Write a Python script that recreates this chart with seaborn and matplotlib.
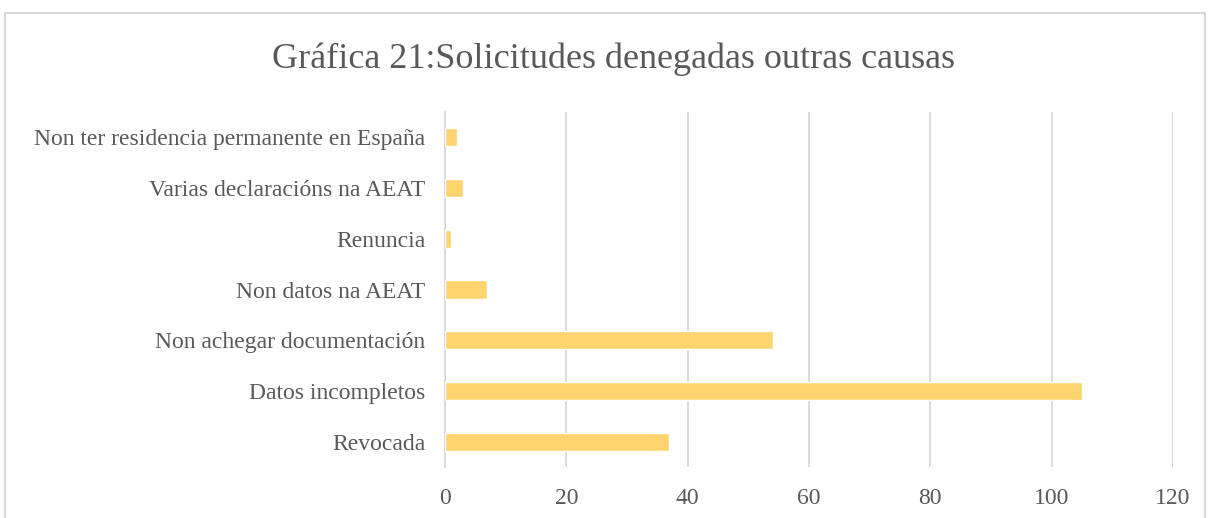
import matplotlib
matplotlib.use("Agg")
import matplotlib.pyplot as plt
import seaborn as sns
import pandas as pd
from matplotlib.patches import Rectangle

# Data (top to bottom as shown in the chart)
categories = [
    "Non ter residencia permanente en España",
    "Varias declaracións na AEAT",
    "Renuncia",
    "Non datos na AEAT",
    "Non achegar documentación",
    "Datos incompletos",
    "Revocada",
]
values = [2, 3, 1, 7, 54, 105, 37]
x_ticks = [0, 20, 40, 60, 80, 100, 120]

title = "Gráfica 21:Solicitudes denegadas outras causas"

TEXT = "#595959"
GRID = "#d9d9d9"
BAR = "#FED46F"

sns.set_theme(style="white")
plt.rcParams["font.family"] = ["Liberation Serif", "DejaVu Serif"]

df = pd.DataFrame({"causa": categories, "n": values})

fig = plt.figure(figsize=(12.08, 5.18), dpi=100)
ax = fig.add_axes([445 / 1208, 1 - 467 / 518, (1173 - 445) / 1208, (467 - 112) / 518])

sns.barplot(data=df, x="n", y="causa", orient="h", color=BAR, width=0.36,
            saturation=1, ax=ax, zorder=3)

ax.set_xlim(0, 120)
ax.set_xticks(x_ticks)
ax.set_xticklabels([str(t) for t in x_ticks], fontsize=17, color=TEXT)
ax.tick_params(axis="y", labelsize=17, labelcolor=TEXT, length=0, pad=14)
ax.tick_params(axis="x", length=0, pad=15)
ax.set_xlabel("")
ax.set_ylabel("")

ax.grid(axis="x", color=GRID, linewidth=1.3, zorder=0)
for s in ["top", "right", "bottom"]:
    ax.spines[s].set_visible(False)
ax.spines["left"].set_color(GRID)
ax.spines["left"].set_linewidth(1.3)

fig.text(613 / 1208, 1 - 59 / 518, title, ha="center", va="center",
         fontsize=26, color=TEXT)

# chart area frame
fig.patches.append(Rectangle((5 / 1208, -0.05), 1200 / 1208, 1.05 - 13 / 518,
                             transform=fig.transFigure, fill=False,
                             edgecolor=GRID, linewidth=1.5))

fig.savefig("out.png", dpi=100)
